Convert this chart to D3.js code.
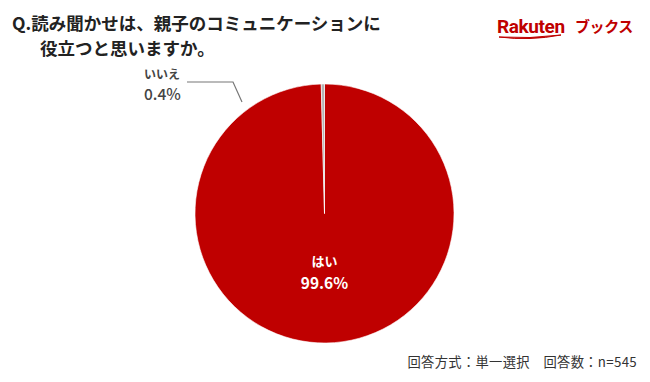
<!DOCTYPE html>
<html><head><meta charset="utf-8">
<script src="https://cdn.jsdelivr.net/npm/d3@7"></script>
<style>body{margin:0;background:#fff;}svg{display:block;font-family:"Noto Sans CJK JP","Noto Sans",sans-serif;}</style>
</head><body>
<svg id="c" width="650" height="382"></svg>
<script>
const categories = ["はい", "いいえ"];
const values = [99.6, 0.4];
const colors = ["#bf0000", "#b4b4b4"];
const titleLines = ["Q.読み聞かせは、親子のコミュニケーションに", "役立つと思いますか。"];
const footnote = "回答方式：単一選択　回答数：n=545";

const svg = d3.select("#c");
svg.append("rect").attr("width",650).attr("height",382).attr("fill","#fff");

// Title
svg.append("text").attr("x",12).attr("y",30).attr("font-size",17.5).attr("font-weight",700).attr("fill","#222").text(titleLines[0]);
svg.append("text").attr("x",40).attr("y",55).attr("font-size",17.5).attr("font-weight",700).attr("fill","#222").text(titleLines[1]);

// Logo
const logo = svg.append("g");
logo.append("text").attr("x",497).attr("y",33).attr("font-family","Roboto, 'Noto Sans', sans-serif").attr("font-size",19).attr("font-weight",700).attr("letter-spacing",-0.4).attr("fill","#bf0000").text("Rakuten");
logo.append("text").attr("x",575).attr("y",32).attr("font-size",15).attr("font-weight",700).attr("letter-spacing",-0.4).attr("fill","#bf0000").text("ブックス");
logo.append("path").attr("d","M499,37 Q530,41 561,35 Q530,39 499,37Z").attr("fill","#bf0000").attr("stroke","#bf0000").attr("stroke-width",1);

// Pie
const cx = 324.5, cy = 213.5, r = 129.5;
const pie = d3.pie().sort(null).value(d => d)(values);
const arc = d3.arc().innerRadius(0).outerRadius(r);
const g = svg.append("g").attr("transform",`translate(${cx},${cy})`);
g.selectAll("path").data(pie).join("path")
  .attr("d",arc).attr("fill",(d,i)=>colors[i]).attr("stroke","#fff").attr("stroke-width",0.6);

// Inside label for はい
const lab = g.append("g").attr("fill","#fff").attr("font-weight",700).attr("text-anchor","middle");
lab.append("text").attr("x",0).attr("y",52).attr("font-size",13).text(categories[0]);
lab.append("text").attr("x",0).attr("y",75).attr("font-size",15.5).text(values[0].toFixed(1)+"%");

// Outside label for いいえ with leader
svg.append("polyline")
  .attr("points",[[242,102],[233,82],[187,82]].map(p=>p.join(",")).join(" "))
  .attr("fill","none").attr("stroke","#777").attr("stroke-width",1.2);
svg.append("text").attr("x",144).attr("y",79).attr("font-size",12).attr("font-weight",700).attr("fill","#444").text(categories[1]);
svg.append("text").attr("x",144).attr("y",100).attr("font-size",15.5).attr("font-weight",500).attr("fill","#444").text(values[1].toFixed(1)+"%");

// Footnote
svg.append("text").attr("x",637).attr("y",367).attr("text-anchor","end").attr("font-size",13.3).attr("letter-spacing",0.3).attr("fill","#333").text(footnote);
</script>
</body></html>
